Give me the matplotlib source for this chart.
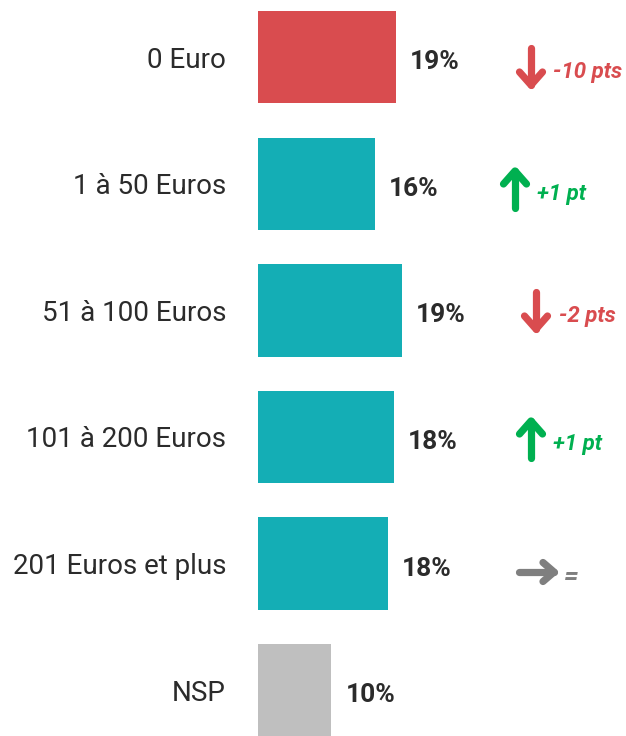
import numpy as np
import matplotlib.pyplot as plt
from matplotlib.lines import Line2D

# budget categories, shares (%) and change vs previous wave (pts)
categories = ['0 Euro', '1 à 50 Euros', '51 à 100 Euros', '101 à 200 Euros',
              '201 Euros et plus', 'NSP']
values = [18.6, 15.8, 19.4, 18.4, 17.6, 9.9]
changes = [-10, 1, -2, 1, 0, None]

RED = '#d94c4f'
TEAL = '#14aeb5'
GREY = '#bfbfbf'
GREEN = '#00b050'
ARROW_GREY = '#7f7f7f'
TXT = '#2b2b2b'

plt.rcParams['font.family'] = ['Roboto', 'DejaVu Sans']

W, H = 626, 736
fig = plt.figure(figsize=(W / 100, H / 100), dpi=100)

# main bar axes: x=0 at pixel 258, 7.4 px per percent
x0 = 258
ax = fig.add_axes([x0 / W, 0, 1 - x0 / W, 1])
ax.set_xlim(0, (W - x0) / 7.4)
ax.set_ylim(5.363, -0.452)

colors = [RED] + [TEAL] * 4 + [GREY]
y = np.arange(len(categories))
ax.barh(y, values, height=0.73, color=colors)

for yi, v in zip(y, values):
    ax.text(v + 1.9, yi + 0.04, f'{round(v)}%', va='center', ha='left',
            fontsize=19, fontweight='bold', color=TXT)

ax.set_yticks(y)
ax.set_yticklabels(categories, fontsize=20, color=TXT)
ax.tick_params(axis='y', length=0, pad=23)
ax.tick_params(axis='x', bottom=False, labelbottom=False)
for s in ax.spines.values():
    s.set_visible(False)

# overlay in pixel coordinates for the change arrows
ov = fig.add_axes([0, 0, 1, 1], facecolor='none')
ov.set_xlim(0, W)
ov.set_ylim(H, 0)
ov.axis('off')

# arrow anchor positions (pixel) for each row
arrow_pos = [(531, 67), (515, 189), (536, 311), (531, 439), (537, 572)]
text_x = [553, 537, 559, 553, 564]


def draw_arrow(cx, cy, kind, color):
    kw = dict(color=color, lw=5.2, solid_capstyle='round', solid_joinstyle='round')
    if kind == 'down':
        ov.add_line(Line2D([cx, cx], [cy - 19, cy + 18], **kw))
        ov.add_line(Line2D([cx - 11.5, cx, cx + 11.5], [cy + 5, cy + 18, cy + 5], **kw))
    elif kind == 'up':
        ov.add_line(Line2D([cx, cx], [cy + 19, cy - 18], **kw))
        ov.add_line(Line2D([cx - 11.5, cx, cx + 11.5], [cy - 5, cy - 18, cy - 5], **kw))
    else:
        ov.add_line(Line2D([cx - 18, cx + 17], [cy, cy], **kw))
        ov.add_line(Line2D([cx + 6, cx + 17, cx + 6], [cy - 9.5, cy, cy + 9.5], **kw))


for (cx, cy), tx, c in zip(arrow_pos, text_x, changes):
    size = 16
    if c < 0:
        col, kind = RED, 'down'
        label = f'{c} pts' if abs(c) > 1 else f'{c} pt'
    elif c > 0:
        col, kind = GREEN, 'up'
        label = f'+{c} pts' if c > 1 else f'+{c} pt'
    else:
        col, kind = ARROW_GREY, 'right'
        label = '='
        size = 19
    draw_arrow(cx, cy, kind, col)
    ov.text(tx, cy + 5, label, color=col, fontsize=size, fontweight='bold',
            fontstyle='italic', va='center', ha='left')

fig.savefig('out.png', dpi=100)
